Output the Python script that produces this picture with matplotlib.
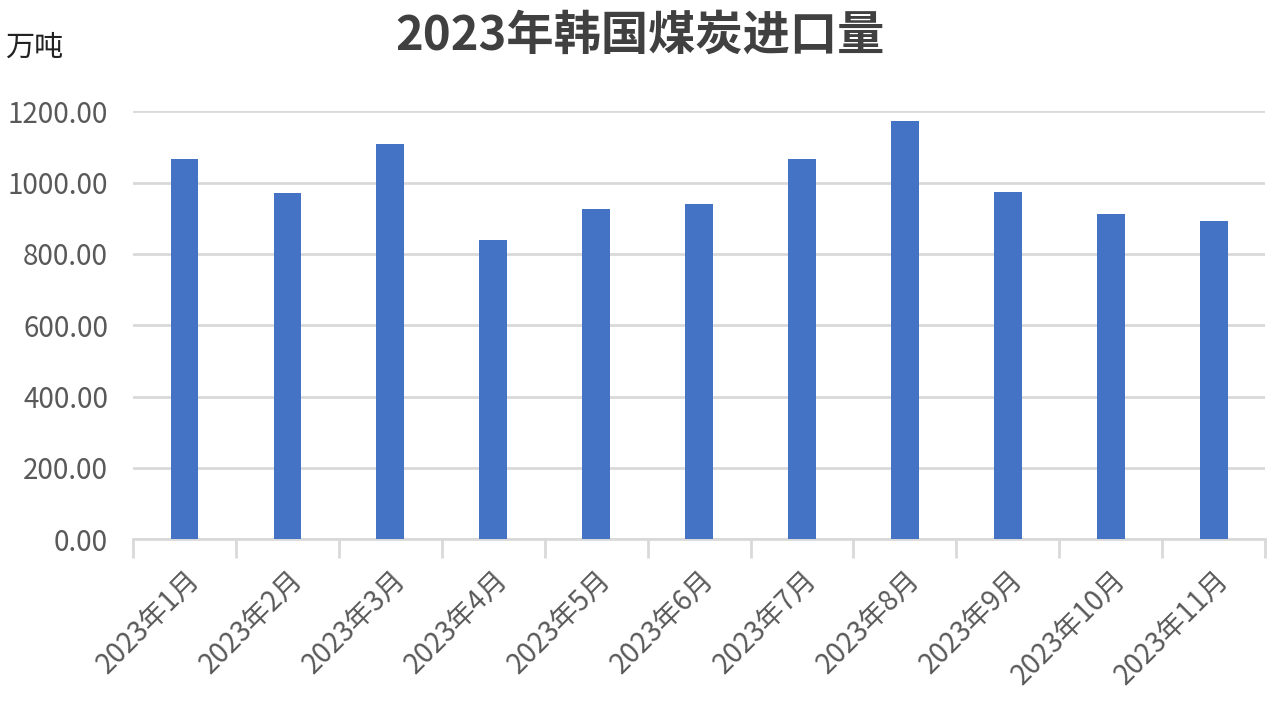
import matplotlib.pyplot as plt
import numpy as np

plt.rcParams['font.family'] = ['Noto Sans CJK SC', 'DejaVu Sans']

months = ['2023年1月', '2023年2月', '2023年3月', '2023年4月', '2023年5月', '2023年6月',
          '2023年7月', '2023年8月', '2023年9月', '2023年10月', '2023年11月']
imports = [1067, 970, 1107, 839, 926, 940, 1067, 1174, 975, 911, 892]
y_ticks = [0, 200, 400, 600, 800, 1000, 1200]

fig = plt.figure(figsize=(12.72, 7.18), dpi=100)
ax = fig.add_axes([0.1046, 0.249, 0.89, 0.596])

x = np.arange(len(months))
ax.bar(x, imports, width=0.27, color='#4472c4', zorder=3)

ax.set_xlim(-0.5, len(months) - 0.5)
ax.set_ylim(0, 1200)
ax.set_yticks(y_ticks)
ax.set_yticklabels([f'{v:.2f}' for v in y_ticks], fontsize=20, color='#595959')
ax.yaxis.grid(True, color='#d9d9d9', linewidth=2, zorder=0)
ax.tick_params(axis='y', length=0, pad=18)

ax.set_xticks(x)
ax.set_xticklabels(months, rotation=45, ha='right', rotation_mode='anchor',
                   fontsize=20, color='#595959')
ax.tick_params(axis='x', which='major', length=0, pad=18)
ax.set_xticks(np.arange(len(months) + 1) - 0.5, minor=True)
ax.tick_params(axis='x', which='minor', length=14, width=2, color='#d9d9d9')

for s in ['top', 'right', 'left']:
    ax.spines[s].set_visible(False)
ax.spines['bottom'].set_color('#d9d9d9')
ax.spines['bottom'].set_linewidth(2)

fig.text(0.503, 0.95, '2023年韩国煤炭进口量', ha='center', va='center',
         fontsize=34, fontweight='bold', color='#404040')
fig.text(0.004, 0.934, '万吨', ha='left', va='center', fontsize=21, color='#222222')

fig.savefig('out.png', dpi=100)
